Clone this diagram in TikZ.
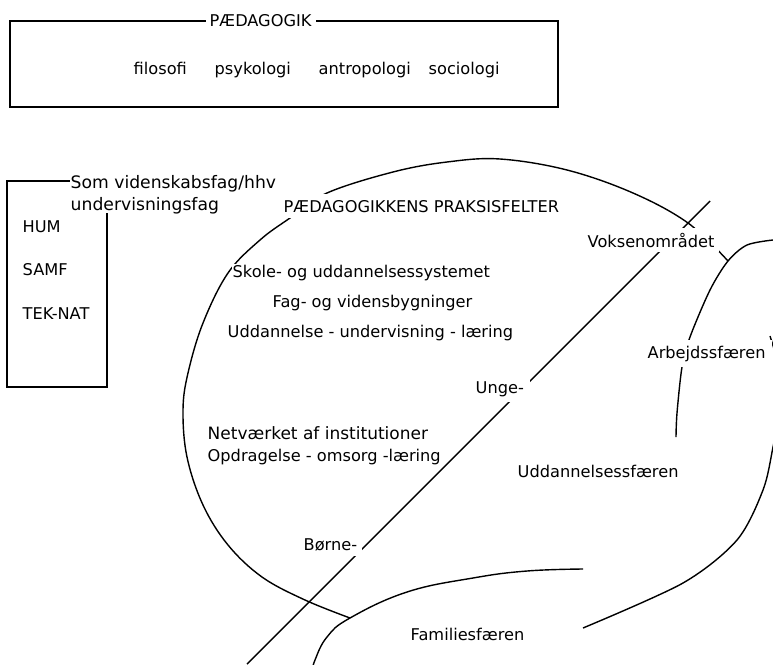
\documentclass[tikz,border=0pt]{standalone}
\usepackage{fontspec}
\setmainfont{DejaVu Sans}
\begin{document}
\begin{tikzpicture}[x=1pt,y=-1pt,line width=1.4pt,
  every node/.style={font=\fontsize{16.2}{19}\selectfont},
  txt/.style={anchor=base west, inner sep=0pt},
  lbl/.style={anchor=base west, fill=white, inner sep=#1, xshift=-#1},
  lbl/.default=2pt]
\useasboundingbox (0,0) rectangle (773,664);
\clip (0,0) rectangle (773,664);

% top box
\draw (10,21) rectangle (558,107);
\node[lbl=4pt] (ped) at (209,26) {PÆDAGOGIK};
\node[txt] (fil) at (133,74) {filosofi};
\node[txt] (psy) at (214,74) {psykologi};
\node[txt] (ant) at (318,74) {antropologi};
\node[txt] (soc) at (428,74) {sociologi};

% left box
\draw (70,181) -- (7,181) -- (7,387) -- (107,387) -- (107,213);
\node[txt, font=\fontsize{17.2}{20}\selectfont] (som) at (70,188) {Som videnskabsfag/hhv};
\node[txt, font=\fontsize{17.2}{20}\selectfont] (und) at (70,210) {undervisningsfag};
\node[txt] (hum) at (22,232) {HUM};
\node[txt] (samf) at (22,275) {SAMF};
\node[txt] (tek) at (22,319) {TEK-NAT};

% big curve (praksisfelter)
\draw plot[smooth, tension=0.6] coordinates {(728,261) (688,223) (633,193) (567,170) (500,159) (447,162) (393,172) (327,193) (290,218) (260,240) (228,273) (203,323) (188,373) (183,410) (187,457) (203,505) (228,545) (262,577) (305,600) (350,618)};

% arbejdssfaeren curve
\draw plot[smooth] coordinates {(773,240) (747,245) (728,261) (710,290) (690,337) (682,367) (677,413) (676,437)};

% uddannelsessfaeren curve
\draw plot[smooth] coordinates {(770,336) (783,390) (773,447) (763,490) (737,540) (683,583) (583,628)};

% familiesfaeren curve
\draw plot[smooth, tension=0.7] coordinates {(583,569) (527,571) (473,578) (407,592) (350,618) (327,637) (315,660) (312,672)};

% diagonal
\coordinate (d1) at (247,664);
\coordinate (d2) at (710,201);
\draw (d1) -- (d2);

% labels
\node[lbl=6pt] (prak) at (283,212) {PÆDAGOGIKKENS PRAKSISFELTER};
\node[lbl=5pt] (voks) at (587,247) {Voksenområdet};
\node[lbl=1pt] (skole) at (232,277) {Skole- og uddannelsessystemet};
\node[txt] (fag) at (272,307) {Fag- og vidensbygninger};
\node[txt] (udd) at (227,337) {Uddannelse - undervisning - læring};
\node[lbl=6pt] (arb) at (647,358) {Arbejdssfæren};
\node[lbl=6pt] (unge) at (475,393) {Unge-};
\node[txt, font=\fontsize{17}{20}\selectfont] (net) at (207,439) {Netværket af institutioner};
\node[lbl=1.5pt] (opd) at (207,461) {Opdragelse - omsorg -læring};
\node[txt] (uddsf) at (517,477) {Uddannelsessfæren};
\node[lbl=5pt] (born) at (303,550) {Børne-};
\node[txt] (fam) at (410,640) {Familiesfæren};
\end{tikzpicture}
\end{document}
